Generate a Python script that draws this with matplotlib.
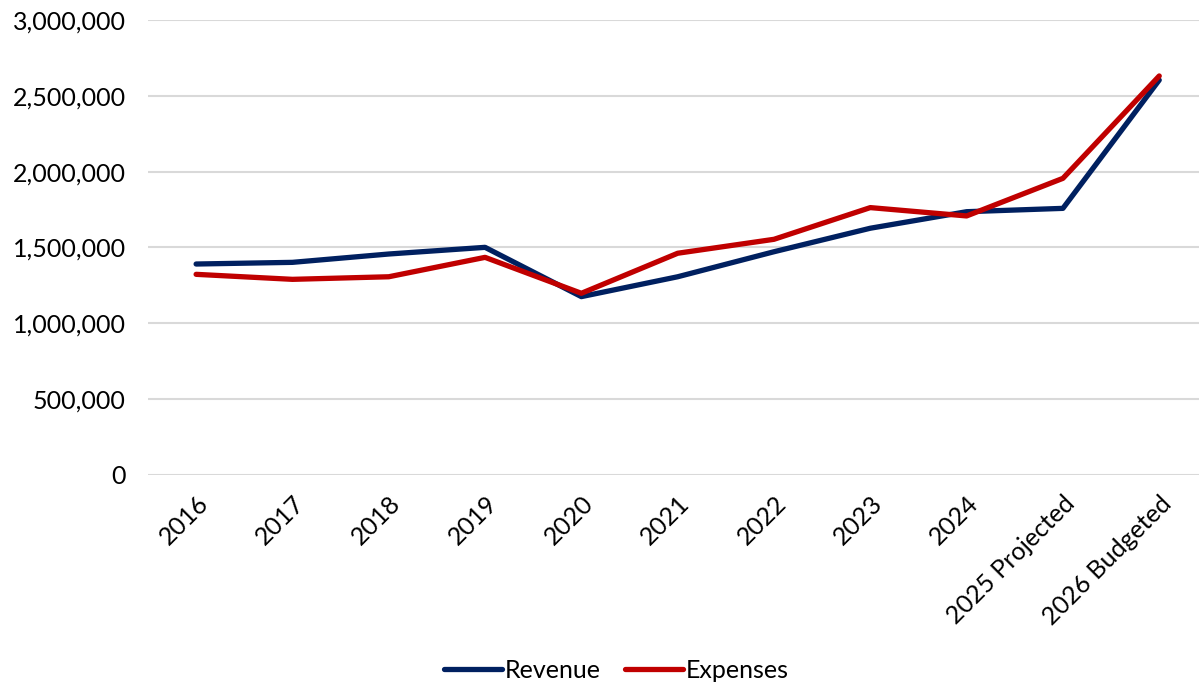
import matplotlib
matplotlib.use("Agg")
import matplotlib.pyplot as plt
from matplotlib.ticker import FuncFormatter

# Values
years = ["2016", "2017", "2018", "2019", "2020", "2021", "2022", "2023",
         "2024", "2025 Projected", "2026 Budgeted"]
revenue = [1391000, 1402000, 1457000, 1501000, 1176000, 1307000, 1472000,
           1627000, 1736000, 1758000, 2604000]
expenses = [1323000, 1290000, 1307000, 1435000, 1198000, 1462000, 1554000,
            1763000, 1708000, 1956000, 2631000]

plt.rcParams['font.family'] = ['Lato', 'DejaVu Sans']

fig = plt.figure(figsize=(11.99, 6.85), dpi=100)
ax = fig.add_axes([0.1234, 0.3066, 0.8836, 0.6642])

x = range(len(years))
ax.plot(x, revenue, color='#002060', lw=3.8, solid_capstyle='round',
        label='Revenue', zorder=3)
ax.plot(x, expenses, color='#C00000', lw=3.8, solid_capstyle='round',
        label='Expenses', zorder=4)

ax.set_xlim(-0.5, len(years) - 0.5)
ax.set_ylim(0, 3000000)
ax.set_yticks(range(0, 3000001, 500000))
ax.yaxis.set_major_formatter(FuncFormatter(lambda v, p: f"{int(v):,}"))
ax.set_xticks(list(x))
ax.set_xticklabels(years, rotation=45, ha='right', rotation_mode='anchor')

ax.grid(axis='y', color='#D9D9D9', lw=1.5)
ax.set_axisbelow(True)
for s in ax.spines.values():
    s.set_visible(False)
ax.tick_params(axis='both', length=0, labelsize=18, colors='#000000')
ax.tick_params(axis='y', pad=16)
ax.tick_params(axis='x', pad=12)

fig.legend(loc='lower center', bbox_to_anchor=(0.514, -0.028), ncol=2,
           frameon=False, fontsize=18, handlelength=2.3, handletextpad=0.1,
           columnspacing=1.0)

fig.savefig("out.png", dpi=100)
